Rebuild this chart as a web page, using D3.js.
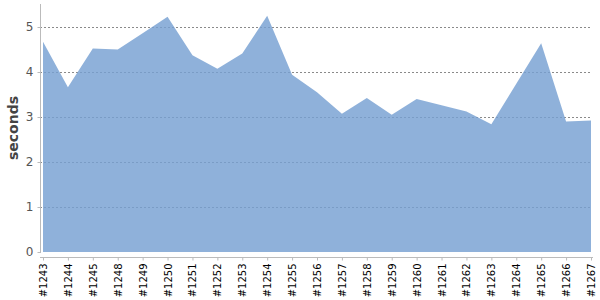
<!DOCTYPE html>
<html>
<head>
<meta charset="utf-8">
<script src="https://cdn.jsdelivr.net/npm/d3@7"></script>
<style>
  body { margin: 0; background: #fff; }
  svg { display: block; font-family: 'DejaVu Sans', sans-serif; }
</style>
</head>
<body>
<div id="chart"></div>
<script>
const builds = ['#1243', '#1244', '#1245', '#1248', '#1249', '#1250', '#1251', '#1252',
  '#1253', '#1254', '#1255', '#1256', '#1257', '#1258', '#1259', '#1260', '#1261',
  '#1262', '#1263', '#1264', '#1265', '#1266', '#1267'];
const seconds = [4.67, 3.66, 4.52, 4.5, 4.86, 5.23, 4.37, 4.07, 4.41, 5.25, 3.94, 3.55,
  3.07, 3.42, 3.05, 3.4, 3.26, 3.12, 2.84, 3.74, 4.64, 2.9, 2.92];
const yTicks = [0, 1, 2, 3, 4, 5];

const w = 600;
const h = 300;

const svg = d3.select('#chart')
  .append('svg')
  .attr('width', w)
  .attr('height', h);

const x = d3.scalePoint()
  .domain(builds)
  .range([43, 591]);

const y = d3.scaleLinear()
  .domain([0, 5.5])
  .range([252, 4.5]);

// grid
svg.append('g')
  .selectAll('line')
  .data(yTicks.filter((d) => d > 0))
  .enter()
  .append('line')
  .attr('x1', 40)
  .attr('x2', 591)
  .attr('y1', (d) => Math.round(y(d)) + 0.5)
  .attr('y2', (d) => Math.round(y(d)) + 0.5)
  .style('stroke', '#8a8a8a')
  .style('stroke-dasharray', '2,2')
  .style('stroke-width', 1);

const area = d3.area()
  .x((d, i) => x(builds[i]))
  .y0(y(0))
  .y1((d) => y(d));

svg.append('path')
  .datum(seconds)
  .attr('d', area)
  .style('fill', 'rgb(118,160,210)')
  .style('fill-opacity', 0.82);

// y axis
const yAxis = d3.axisLeft(y)
  .tickValues(yTicks)
  .tickSize(3)
  .tickPadding(4)
  .tickFormat(d3.format('d'));

const gy = svg.append('g')
  .attr('transform', 'translate(40.5,0)')
  .call(yAxis);
gy.select('.domain').attr('d', 'M0,4V253').style('stroke', '#bbb');
gy.selectAll('.tick line').style('stroke', '#bbb');
gy.selectAll('.tick text')
  .style('font-size', '12px')
  .style('fill', '#555')
  .style('font-family', "'DejaVu Sans', sans-serif");

// x axis
const xAxis = d3.axisBottom(x)
  .tickSize(3)
  .tickSizeOuter(0);

const gx = svg.append('g')
  .attr('transform', 'translate(0,257.5)')
  .call(xAxis);
gx.select('.domain').attr('d', 'M40,0H593').style('stroke', '#bbb');
gx.selectAll('.tick line').style('stroke', '#bbb');
gx.selectAll('.tick text')
  .attr('transform', 'rotate(-90)')
  .attr('text-anchor', 'end')
  .attr('x', -6)
  .attr('y', 0)
  .attr('dy', '0.35em')
  .style('font-size', '10px')
  .style('fill', '#000')
  .style('font-family', "'DejaVu Sans', sans-serif");

svg.append('text')
  .attr('transform', 'translate(18,128) rotate(-90)')
  .attr('text-anchor', 'middle')
  .style('font-size', '14px')
  .style('font-weight', 'bold')
  .style('fill', '#444')
  .text('seconds');
</script>
</body>
</html>
